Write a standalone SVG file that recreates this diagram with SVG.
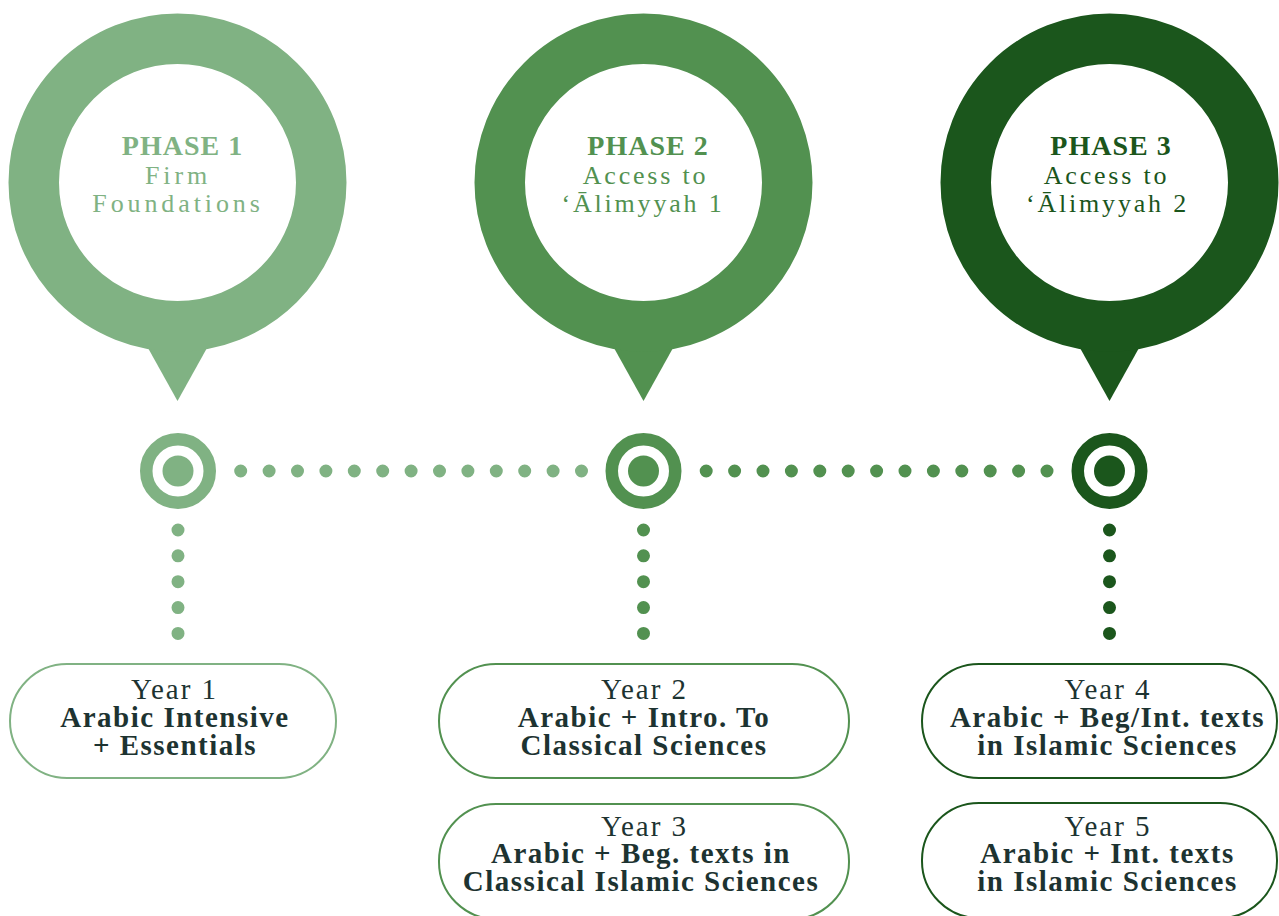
<svg xmlns="http://www.w3.org/2000/svg" width="1279" height="916" viewBox="0 0 1279 916">
  <style>
    .title { font-family: "Liberation Serif", "Times New Roman", serif; font-size: 28px; font-weight: bold; letter-spacing: 1px; text-anchor: middle; }
    .sub { font-family: "Liberation Serif", "Times New Roman", serif; font-size: 26px; letter-spacing: 2.8px; text-anchor: middle; }
    .wide { letter-spacing: 3.9px; }
    .yr { font-family: "Liberation Serif", "Times New Roman", serif; font-size: 29px; letter-spacing: 2px; text-anchor: middle; fill: #1d3331; }
    .b { font-weight: bold; letter-spacing: 1.5px; }
    .box { fill: #ffffff; stroke-width: 2; }
    .c1 { fill: #80b283; }
    .c2 { fill: #529150; }
    .c3 { fill: #1b561c; }
    .s1 { stroke: #80b283; }
    .s2 { stroke: #529150; }
    .s3 { stroke: #1b561c; }
  </style>
  <rect x="0" y="0" width="1279" height="916" fill="#ffffff"/>

  <!-- Phase pins -->
  <g id="phase1">
    <polygon class="c1" points="138,330 217,330 177.5,401"/>
    <circle cx="177.5" cy="182.5" r="143.75" fill="#ffffff" stroke="#80b283" stroke-width="50.5"/>
    <text class="title c1" x="182.5" y="155">PHASE 1</text>
    <text class="sub wide c1" x="178" y="184">Firm</text>
    <text class="sub wide c1" x="178" y="212">Foundations</text>
  </g>
  <g id="phase2">
    <polygon class="c2" points="604,330 683,330 643.5,401"/>
    <circle cx="643.5" cy="182.5" r="143.75" fill="#ffffff" stroke="#529150" stroke-width="50.5"/>
    <text class="title c2" x="648" y="155">PHASE 2</text>
    <text class="sub c2" x="645.5" y="184">Access to</text>
    <text class="sub c2" x="643" y="212">‘Ālimyyah 1</text>
  </g>
  <g id="phase3">
    <polygon class="c3" points="1070,330 1149,330 1109.5,401"/>
    <circle cx="1109.5" cy="182.5" r="143.75" fill="#ffffff" stroke="#1b561c" stroke-width="50.5"/>
    <text class="title c3" x="1111" y="155">PHASE 3</text>
    <text class="sub c3" x="1106.5" y="184">Access to</text>
    <text class="sub c3" x="1107.5" y="212">‘Ālimyyah 2</text>
  </g>

  <!-- Targets -->
  <g id="target1">
    <circle cx="178" cy="471" r="31.75" fill="none" stroke="#80b283" stroke-width="12.5"/>
    <circle class="c1" cx="178" cy="471" r="15.5"/>
  </g>
  <g id="target2">
    <circle cx="643.5" cy="471" r="31.75" fill="none" stroke="#529150" stroke-width="12.5"/>
    <circle class="c2" cx="643.5" cy="471" r="15.5"/>
  </g>
  <g id="target3">
    <circle cx="1109.5" cy="471" r="31.75" fill="none" stroke="#1b561c" stroke-width="12.5"/>
    <circle class="c3" cx="1109.5" cy="471" r="15.5"/>
  </g>

  <!-- Connectors (dotted) -->
  <g id="connectors">
    <line x1="240.7" y1="471" x2="581.5" y2="471" stroke="#80b283" stroke-width="13" stroke-linecap="round" stroke-dasharray="0 28.4"/>
    <line x1="706.2" y1="471" x2="1047" y2="471" stroke="#529150" stroke-width="13" stroke-linecap="round" stroke-dasharray="0 28.4"/>
    <line x1="178" y1="530" x2="178" y2="633.5" stroke="#80b283" stroke-width="13" stroke-linecap="round" stroke-dasharray="0 25.85"/>
    <line x1="643.5" y1="530" x2="643.5" y2="633.5" stroke="#529150" stroke-width="13" stroke-linecap="round" stroke-dasharray="0 25.85"/>
    <line x1="1109.5" y1="530" x2="1109.5" y2="633.5" stroke="#1b561c" stroke-width="13" stroke-linecap="round" stroke-dasharray="0 25.85"/>
  </g>

  <!-- Year boxes -->
  <g id="year1">
    <rect class="box s1" x="10" y="664" width="326" height="114" rx="57"/>
    <text class="yr" x="174.5" y="699">Year 1</text>
    <text class="yr b" x="175" y="727">Arabic Intensive</text>
    <text class="yr b" x="175" y="755">+ Essentials</text>
  </g>
  <g id="year2">
    <rect class="box s2" x="439" y="664" width="410" height="114" rx="57"/>
    <text class="yr" x="644.5" y="699">Year 2</text>
    <text class="yr b" x="644" y="727">Arabic + Intro. To</text>
    <text class="yr b" x="644" y="755">Classical Sciences</text>
  </g>
  <g id="year3">
    <rect class="box s2" x="439" y="804" width="410" height="115" rx="57"/>
    <text class="yr" x="644.5" y="836">Year 3</text>
    <text class="yr b" x="641" y="863">Arabic + Beg. texts in</text>
    <text class="yr b" x="641" y="891">Classical Islamic Sciences</text>
  </g>
  <g id="year4">
    <rect class="box s3" x="922" y="664" width="355" height="114" rx="57"/>
    <text class="yr" x="1108" y="699">Year 4</text>
    <text class="yr b" x="1107.5" y="727">Arabic + Beg/Int. texts</text>
    <text class="yr b" x="1107.5" y="755">in Islamic Sciences</text>
  </g>
  <g id="year5">
    <rect class="box s3" x="922" y="803" width="355" height="115" rx="57"/>
    <text class="yr" x="1108" y="836">Year 5</text>
    <text class="yr b" x="1107.5" y="863">Arabic + Int. texts</text>
    <text class="yr b" x="1107.5" y="891">in Islamic Sciences</text>
  </g>
</svg>
